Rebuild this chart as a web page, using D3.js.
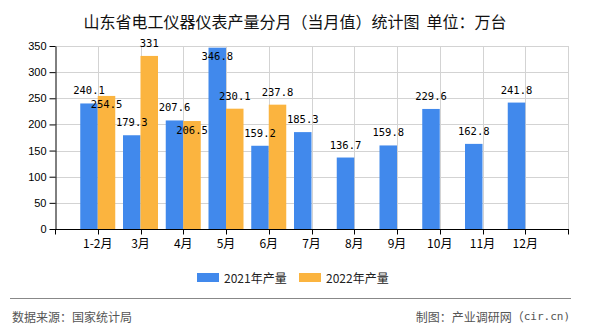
<!DOCTYPE html>
<html>
<head>
<meta charset="utf-8">
<script src="https://cdn.jsdelivr.net/npm/d3@7"></script>
<style>
  html, body { margin: 0; padding: 0; background: #fff; }
  svg { display: block; }
</style>
</head>
<body>
<svg id="chart" width="590" height="330"></svg>
<script>
const categories = ["1-2月", "3月", "4月", "5月", "6月", "7月", "8月", "9月", "10月", "11月", "12月"];
const values2021 = [240.1, 179.3, 207.6, 346.8, 159.2, 185.3, 136.7, 159.8, 229.6, 162.8, 241.8];
const values2022 = [254.5, 331, 206.5, 230.1, 237.8, null, null, null, null, null, null];
const seriesNames = ["2021年产量", "2022年产量"];
const yTicks = [0, 50, 100, 150, 200, 250, 300, 350];

(function () {
const colors = ["#4189ec", "#fbb43f"];
const W = 590, H = 330;
const pLeft = 55, pRight = 568, pTop = 46, pBottom = 229;
const step = (pRight - pLeft) / 12;

const svg = d3.select("#chart");
svg.append("rect").attr("width", W).attr("height", H).attr("fill", "#fff");

const x = d3.scalePoint().domain(categories).range([pLeft + step, pRight - step]);
const y = d3.scaleLinear().domain([0, 350]).range([pBottom, pTop]);
const bw = 17.5;

// title
svg.append("text")
  .attr("x", 295).attr("y", 21)
  .attr("text-anchor", "middle").attr("dominant-baseline", "central")
  .attr("font-family", "'Noto Sans CJK SC', sans-serif")
  .attr("font-size", 16).attr("fill", "#111")
  .attr("xml:space", "preserve")
  .text("山东省电工仪器仪表产量分月（当月值）统计图  单位：万台");

// horizontal grid
svg.append("g").selectAll("line").data(yTicks.filter(d => d > 0)).join("line")
  .attr("x1", pLeft).attr("x2", pRight)
  .attr("y1", d => Math.round(y(d)) + 0.5).attr("y2", d => Math.round(y(d)) + 0.5)
  .attr("stroke", "#d3d3d3").attr("stroke-width", 1);

// vertical grid
svg.append("g").selectAll("line").data(categories.concat(["__end"])).join("line")
  .attr("x1", d => Math.round(d === "__end" ? pRight : x(d)) + 0.5)
  .attr("x2", d => Math.round(d === "__end" ? pRight : x(d)) + 0.5)
  .attr("y1", pTop).attr("y2", pBottom)
  .attr("stroke", "#d3d3d3").attr("stroke-width", 1);

// bars
const barData = [];
categories.forEach((c, i) => {
  const v1 = values2021[i], v2 = values2022[i];
  if (v1 != null) barData.push({c, s: 0, v: v1});
  if (v2 != null) barData.push({c, s: 1, v: v2});
});
svg.append("g").selectAll("rect").data(barData).join("rect")
  .attr("x", d => d.s === 0 ? x(d.c) - bw : x(d.c))
  .attr("width", bw)
  .attr("y", d => y(d.v))
  .attr("height", d => pBottom - y(d.v))
  .attr("fill", d => colors[d.s]);

// labels with simple collision avoidance
const labelPos = {};
barData.forEach(d => {
  const topY = y(d.v);
  let ly = topY - 13;
  if (ly < 40) ly = topY + 8.5;
  if (d.s === 1 && labelPos[d.c] != null && Math.abs(labelPos[d.c] - ly) < 12) ly = topY + 8.5;
  if (d.s === 0) labelPos[d.c] = ly;
  d.ly = ly;
});
svg.append("g").selectAll("text").data(barData).join("text")
  .attr("x", d => d.s === 0 ? x(d.c) - bw / 2 : x(d.c) + bw / 2)
  .attr("y", d => d.ly)
  .attr("text-anchor", "middle").attr("dominant-baseline", "central")
  .attr("font-family", "'DejaVu Sans Mono', monospace")
  .attr("font-size", 10.5).attr("fill", "#000")
  .text(d => String(d.v));

// y axis
const yAxis = svg.append("g").attr("transform", `translate(${pLeft + 0.5},0)`)
  .call(d3.axisLeft(y).tickValues(yTicks).tickSize(6).tickSizeOuter(0));
yAxis.select(".domain").attr("stroke", "#000");
yAxis.selectAll(".tick line").attr("stroke", "#000");
yAxis.selectAll(".tick text")
  .attr("font-family", "'Liberation Sans', Arial, sans-serif")
  .attr("font-size", 11).attr("fill", "#000").attr("x", -9);

// x axis
const xg = svg.append("g").attr("transform", `translate(0,${pBottom + 0.5})`);
xg.append("line").attr("x1", pLeft).attr("x2", pRight + 1).attr("y1", 0).attr("y2", 0)
  .attr("stroke", "#000");
xg.selectAll("line.tk").data([pLeft].concat(categories.map(c => x(c)), [pRight])).join("line")
  .attr("class", "tk")
  .attr("x1", d => Math.round(d) + 0.5).attr("x2", d => Math.round(d) + 0.5).attr("y1", 0).attr("y2", 5)
  .attr("stroke", "#000");
xg.selectAll("text").data(categories).join("text")
  .attr("x", d => x(d)).attr("y", 13)
  .attr("text-anchor", "middle").attr("dominant-baseline", "central")
  .attr("font-family", "'Noto Sans CJK SC', sans-serif")
  .attr("font-size", 12).attr("fill", "#000")
  .text(d => d);

// legend
const legendX = [197, 299];
seriesNames.forEach((name, i) => {
  svg.append("rect").attr("x", legendX[i]).attr("y", 273).attr("width", 22).attr("height", 9)
    .attr("fill", colors[i]);
  svg.append("text").attr("x", legendX[i] + 27).attr("y", 277.5)
    .attr("dominant-baseline", "central")
    .attr("font-family", "'Noto Sans CJK SC', sans-serif")
    .attr("font-size", 12).attr("fill", "#222")
    .text(name);
});

// separator and footer
svg.append("line").attr("x1", 10).attr("x2", 571).attr("y1", 298.5).attr("y2", 298.5)
  .attr("stroke", "#888").attr("stroke-width", 1);
svg.append("text").attr("x", 12).attr("y", 316)
  .attr("dominant-baseline", "central")
  .attr("font-family", "'Noto Sans CJK SC', sans-serif")
  .attr("font-size", 12).attr("fill", "#555")
  .text("数据来源：国家统计局");
const ft = svg.append("text").attr("x", 570).attr("y", 316)
  .attr("text-anchor", "end").attr("dominant-baseline", "central")
  .attr("font-family", "'Noto Sans CJK SC', sans-serif")
  .attr("font-size", 12).attr("fill", "#555");
ft.append("tspan").text("制图：产业调研网（");
ft.append("tspan").attr("font-family", "'DejaVu Sans Mono', monospace").attr("font-size", 11).text("cir.cn)");
})();
</script>
</body>
</html>
